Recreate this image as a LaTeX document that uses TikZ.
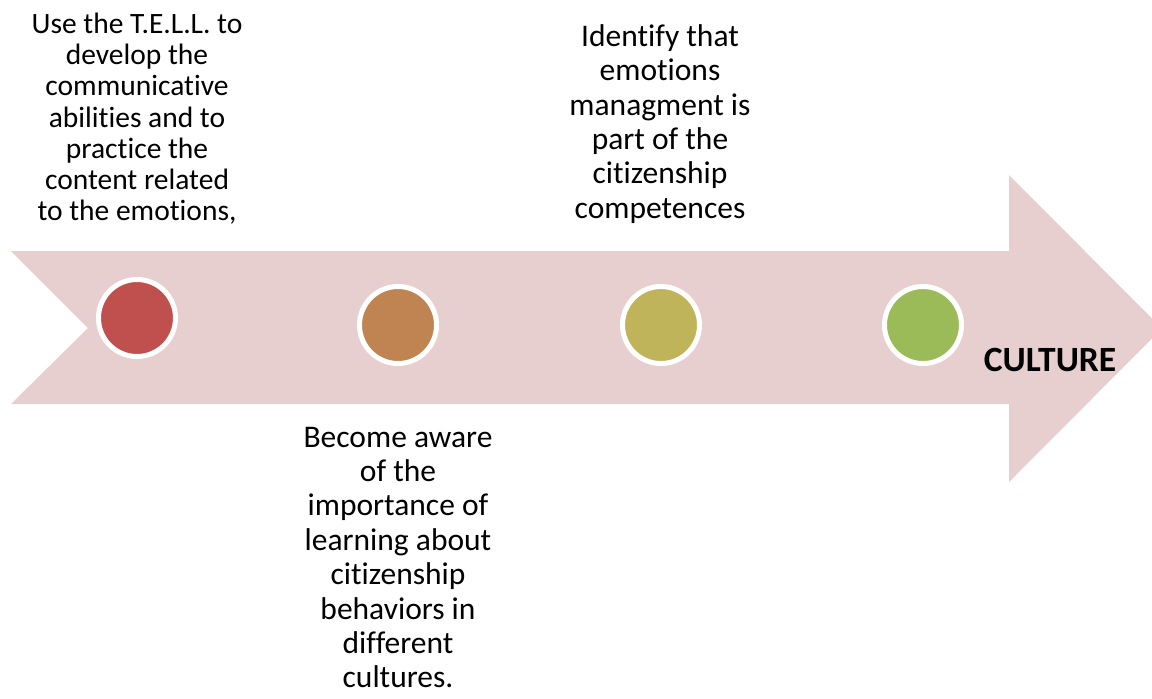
\documentclass[tikz,border=0pt]{standalone}
\usepackage{fontspec}
\setmainfont{Carlito}[Ligatures=NoCommon]
\definecolor{band}{HTML}{E8CFCF}
\definecolor{dotred}{HTML}{C0504D}
\definecolor{dotorange}{HTML}{C08352}
\definecolor{dotolive}{HTML}{C0B45A}
\definecolor{dotgreen}{HTML}{9BBB59}
\begin{document}
\begin{tikzpicture}[x=0.5pt, y=-0.5pt,
		dot/.style={circle, draw=white, line width=2.5pt, minimum size=38.5pt, inner sep=0pt},
		small/.style={align=center, font=\fontsize{14.75pt}{15.6pt}\selectfont},
		big/.style={align=center, font=\fontsize{15.75pt}{17.2pt}\selectfont}]
		\clip (0,0) rectangle (1152,698);
		\fill[band] (11,251) -- (1009,251) -- (1009,175) -- (1162,328.5) -- (1009,482) -- (1009,404) -- (11,404) -- (88,328) -- cycle;
		\node (d1) at (137,318) [dot, fill=dotred] {};
		\node (d2) at (398,325) [dot, fill=dotorange] {};
		\node (d3) at (661,325) [dot, fill=dotolive] {};
		\node (d4) at (923,325) [dot, fill=dotgreen] {};
		\node (tell) at (137,118.7) [small] {Use the T.E.L.L. to\\develop the\\communicative\\abilities and to\\practice the\\content related\\to the emotions,};
		\node (aware) at (398,557.5) [big] {Become aware\\of the\\importance of\\learning about\\citizenship\\behaviors in\\different\\cultures.};
		\node (identify) at (660,123.8) [big] {Identify that\\emotions\\managment is\\part of the\\citizenship\\competences};
		\node (culture) at (1050,371) [anchor=base, font=\fontsize{17.75pt}{21pt}\selectfont\bfseries] {CULTURE};
	\end{tikzpicture}
\end{document}
